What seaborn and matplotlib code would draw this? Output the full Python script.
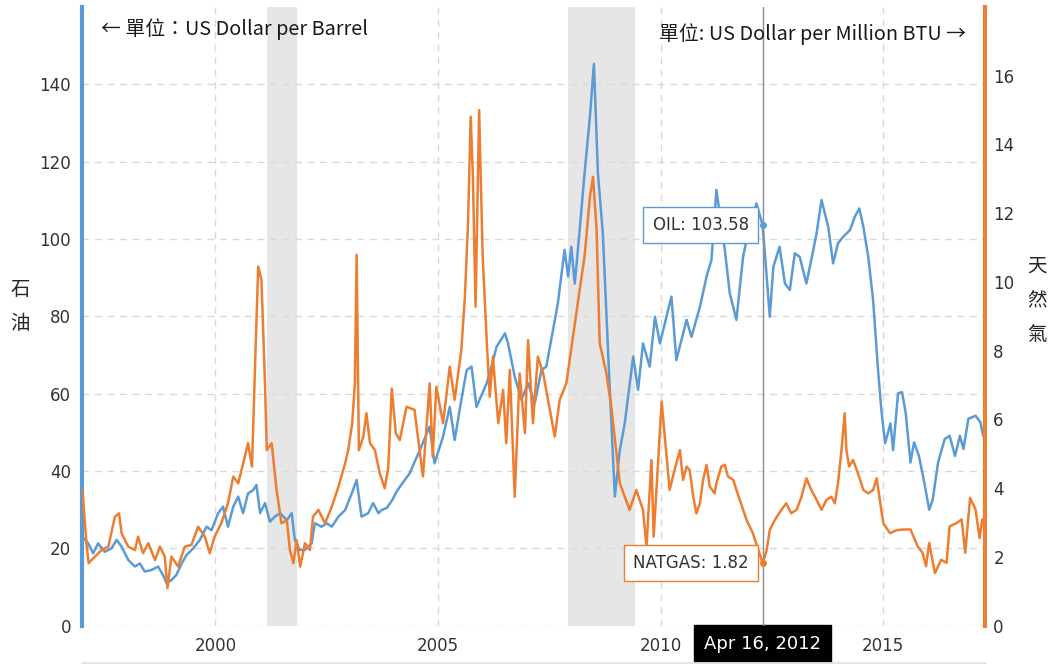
import pandas as pd
import matplotlib
matplotlib.use("Agg")
import matplotlib.pyplot as plt
import matplotlib.dates as mdates
import seaborn as sns

# OIL, USD per barrel: time (decimal year) and value
oil_t = [1997.01, 1997.14, 1997.25, 1997.36, 1997.51, 1997.66, 1997.78, 1997.89,
         1998.04, 1998.19, 1998.30, 1998.41, 1998.56, 1998.71, 1998.82, 1998.90,
         1999.01, 1999.12, 1999.24, 1999.35, 1999.50, 1999.65, 1999.80, 1999.91,
         2000.06, 2000.17, 2000.28, 2000.40, 2000.51, 2000.62, 2000.73, 2000.85, 2000.92,
         2001.00, 2001.11, 2001.22, 2001.33, 2001.45, 2001.60, 2001.71, 2001.78, 2001.89,
         2002.01, 2002.16, 2002.23, 2002.38, 2002.50, 2002.61, 2002.76, 2002.91,
         2003.06, 2003.17, 2003.28, 2003.43, 2003.54, 2003.66, 2003.73, 2003.85, 2003.97,
         2004.06, 2004.14, 2004.36, 2004.59, 2004.81, 2004.92,
         2005.11, 2005.26, 2005.37, 2005.52, 2005.64, 2005.75, 2005.86,
         2006.09, 2006.20, 2006.31, 2006.50, 2006.57, 2006.72, 2006.87,
         2007.02, 2007.17, 2007.32, 2007.43, 2007.58, 2007.69, 2007.84, 2007.92, 2007.99,
         2008.07, 2008.18, 2008.29, 2008.41, 2008.50, 2008.59, 2008.70, 2008.85, 2008.97,
         2009.08, 2009.19, 2009.38, 2009.49, 2009.60, 2009.75, 2009.87, 2009.98,
         2010.24, 2010.35, 2010.58, 2010.69, 2010.88,
         2011.03, 2011.14, 2011.25, 2011.44, 2011.55, 2011.70, 2011.85, 2011.96,
         2012.15, 2012.45, 2012.53, 2012.67, 2012.79, 2012.90,
         2013.01, 2013.12, 2013.27, 2013.38, 2013.50, 2013.61, 2013.76, 2013.87, 2013.98,
         2014.10, 2014.25, 2014.36, 2014.46, 2014.55, 2014.66, 2014.77, 2014.88, 2014.96,
         2015.04, 2015.16, 2015.22, 2015.33, 2015.42, 2015.50, 2015.61, 2015.69, 2015.80, 2015.92,
         2016.03, 2016.11, 2016.23, 2016.38, 2016.49, 2016.61, 2016.72, 2016.80, 2016.91,
         2017.07, 2017.18, 2017.24, 2017.28]
oil_v = [23.0, 21.3, 18.7, 21.3, 19.1, 20.0, 22.2, 20.4,
         17.0, 15.3, 16.1, 14.0, 14.4, 15.3, 13.1, 11.0,
         11.8, 13.1, 16.1, 18.3, 20.0, 22.2, 25.6, 24.7,
         29.1, 30.8, 25.6, 30.8, 33.4, 29.1, 34.2, 35.1, 36.4,
         29.1, 31.7, 26.9, 28.2, 29.1, 27.3, 29.1, 22.2, 19.6,
         19.6, 21.3, 26.5, 25.6, 26.5, 25.6, 28.2, 29.9,
         34.2, 37.7, 28.2, 29.1, 31.7, 29.1, 29.9, 30.5, 32.5,
         34.5, 35.9, 39.4, 45.4, 51.5, 42.0,
         48.9, 56.6, 48.0, 58.4, 66.1, 67.0, 56.6,
         62.7, 67.0, 72.1, 75.6, 73.0, 64.4, 58.4,
         62.7, 57.5, 66.1, 67.0, 76.5, 83.4, 97.2, 90.3, 98.0,
         88.5, 102.3, 117.0, 131.6, 145.3, 117.0, 101.5, 62.7, 33.4,
         45.4, 52.3, 69.6, 61.0, 73.0, 67.0, 79.9, 73.0,
         85.1, 68.7, 79.1, 74.7, 82.5,
         90.3, 94.6, 112.7, 97.2, 86.0, 79.1, 95.4, 101.5,
         109.2, 79.9, 92.8, 98.0, 88.5, 86.8,
         96.3, 95.4, 88.5, 94.6, 101.5, 110.1, 103.2, 93.7, 98.9,
         100.6, 102.3, 105.8, 107.9, 103.2, 95.4, 84.2, 66.1, 55.2,
         47.2, 52.3, 45.4, 60.1, 60.4, 55.2, 42.2, 47.4, 43.9, 37.0,
         30.0, 32.6, 42.2, 48.3, 49.1, 43.9, 49.1, 45.7, 53.5,
         54.3, 52.6, 49.1, 51.0]

# NATGAS, USD per million BTU
gas_t = [1997.01, 1997.10, 1997.15, 1997.29, 1997.44, 1997.59, 1997.74, 1997.83, 1997.89,
         1998.04, 1998.19, 1998.26, 1998.37, 1998.49, 1998.64, 1998.75, 1998.86, 1998.92,
         1999.01, 1999.16, 1999.31, 1999.46, 1999.61, 1999.76, 1999.87, 1999.98,
         2000.13, 2000.28, 2000.40, 2000.51, 2000.66, 2000.73, 2000.82, 2000.90, 2000.96,
         2001.03, 2001.11, 2001.15, 2001.26, 2001.37, 2001.48, 2001.60, 2001.67, 2001.75,
         2001.82, 2001.90, 2002.01, 2002.12, 2002.19, 2002.31, 2002.46, 2002.61, 2002.76,
         2002.91, 2002.98, 2003.07, 2003.13, 2003.17, 2003.22, 2003.32, 2003.39, 2003.47,
         2003.58, 2003.69, 2003.80, 2003.88, 2003.96, 2004.05,
         2004.14, 2004.29, 2004.47, 2004.66, 2004.81, 2004.88, 2004.96,
         2005.11, 2005.26, 2005.37, 2005.52, 2005.60, 2005.67, 2005.73, 2005.78, 2005.84,
         2005.92, 2006.00, 2006.09, 2006.16, 2006.23, 2006.35, 2006.46, 2006.53, 2006.61,
         2006.72, 2006.83, 2006.95, 2007.02, 2007.13, 2007.24, 2007.36, 2007.51, 2007.62,
         2007.73, 2007.88, 2008.03, 2008.18, 2008.29, 2008.41, 2008.48, 2008.56, 2008.63,
         2008.78, 2008.89, 2009.08, 2009.30, 2009.45, 2009.60, 2009.68, 2009.79, 2009.84,
         2010.02, 2010.09, 2010.20, 2010.31, 2010.43, 2010.50, 2010.58, 2010.65, 2010.73,
         2010.80, 2010.88, 2010.95, 2011.03, 2011.10, 2011.21, 2011.25, 2011.36, 2011.44,
         2011.51, 2011.63, 2011.70, 2011.85, 2011.93, 2012.07,
         2012.38, 2012.45, 2012.56, 2012.71, 2012.82, 2012.93,
         2013.05, 2013.16, 2013.27, 2013.38, 2013.50, 2013.61, 2013.72, 2013.83, 2013.91, 2013.98,
         2014.06, 2014.13, 2014.17, 2014.23, 2014.32, 2014.43, 2014.55, 2014.66, 2014.77,
         2014.85, 2014.92, 2015.00, 2015.15, 2015.30, 2015.46, 2015.61, 2015.77, 2015.88, 2015.96,
         2016.03, 2016.16, 2016.30, 2016.42, 2016.49, 2016.65, 2016.76, 2016.84, 2016.95,
         2017.07, 2017.16, 2017.22, 2017.28]
gas_v = [3.95, 2.40, 1.82, 2.01, 2.20, 2.30, 3.17, 3.27, 2.69,
         2.30, 2.20, 2.59, 2.11, 2.40, 1.91, 2.30, 2.01, 1.09,
         2.01, 1.72, 2.30, 2.35, 2.88, 2.59, 2.11, 2.59,
         2.98, 3.56, 4.34, 4.14, 4.92, 5.31, 4.63, 8.02, 10.45,
         10.06, 7.05, 5.11, 5.31, 3.95, 2.98, 3.07, 2.20, 1.82,
         2.49, 1.72, 2.40, 2.20, 3.17, 3.37, 2.98, 3.46, 4.04,
         4.72, 5.11, 5.89, 7.05, 10.79, 5.11, 5.50, 6.18, 5.31,
         5.11, 4.43, 4.00, 4.60, 6.90, 5.60,
         5.40, 6.37, 6.28, 4.34, 7.05, 4.92, 6.95,
         5.89, 7.54, 6.57, 8.02, 9.57, 11.71, 14.81, 13.06, 9.28,
         15.00, 10.74, 8.31, 6.66, 7.83, 5.89, 6.86, 5.31, 7.44,
         3.75, 7.34, 5.60, 8.31, 5.89, 7.83, 7.34, 6.28, 5.50,
         6.57, 7.05, 8.41, 9.77, 10.74, 12.48, 13.06, 11.51, 8.22,
         7.34, 6.37, 4.14, 3.37, 3.95, 3.37, 2.30, 4.82, 2.59,
         6.52, 5.50, 3.95, 4.53, 5.11, 4.24, 4.63, 4.53, 3.75,
         3.27, 3.56, 4.24, 4.68, 4.05, 3.85, 4.14, 4.63, 4.68,
         4.34, 4.24, 3.95, 3.37, 3.07, 2.69,
         2.20, 2.78, 3.07, 3.37, 3.56, 3.27,
         3.37, 3.75, 4.29, 3.95, 3.66, 3.37, 3.66, 3.75, 3.56, 4.14,
         5.11, 6.18, 5.11, 4.63, 4.82, 4.43, 3.95, 3.85, 3.95,
         4.29, 3.66, 2.98, 2.69, 2.78, 2.80, 2.80, 2.31, 2.12, 1.73,
         2.41, 1.53, 1.92, 1.83, 2.89, 2.99, 3.09, 2.12, 3.72,
         3.38, 2.55, 3.09, 2.99]

recessions = [("2001-03-01", "2001-11-01"), ("2007-12-01", "2009-06-01")]
year_ticks = ["2000", "2005", "2010", "2015"]
hover_date = "2012-04-16"
hover_oil = 103.58
hover_gas = 1.82

blue = "#5b9bd5"
orange = "#ed7d31"


def to_date(t):
    yr = int(t)
    return pd.Timestamp(year=yr, month=1, day=1) + pd.Timedelta(days=(t - yr) * 365.25)


hd = pd.Timestamp(hover_date)
oil = pd.DataFrame({"date": [to_date(t) for t in oil_t] + [hd], "price": oil_v + [hover_oil]})
gas = pd.DataFrame({"date": [to_date(t) for t in gas_t] + [hd], "price": gas_v + [hover_gas]})
oil = oil.sort_values("date")
gas = gas.sort_values("date")

sns.set_style("white")
plt.rcParams["font.family"] = ["DejaVu Sans", "Noto Sans CJK TC"]
cjk = ["Noto Sans CJK TC", "DejaVu Sans"]

W, H = 1053, 664
fig = plt.figure(figsize=(W / 100, H / 100), dpi=100)
ax = fig.add_axes([82 / W, (H - 625.7) / H, 903 / W, 618.7 / H])
ax2 = ax.twinx()

for start, end in recessions:
    ax.axvspan(pd.Timestamp(start), pd.Timestamp(end), color="#e6e6e6", lw=0, zorder=0)

sns.lineplot(data=oil, x="date", y="price", ax=ax, color=blue, lw=1.8, estimator=None)
sns.lineplot(data=gas, x="date", y="price", ax=ax2, color=orange, lw=1.8, estimator=None)

ax.set_xlim(pd.Timestamp("1997-01-01"), pd.Timestamp("2017-04-14"))
ax.set_ylim(0, 160)
ax2.set_ylim(0, 18)
ax.set_yticks(range(0, 141, 20))
ax2.set_yticks(range(0, 17, 2))
ax.set_xticks([pd.Timestamp(y + "-01-01") for y in year_ticks])
ax.xaxis.set_major_formatter(mdates.DateFormatter("%Y"))
ax.set_xlabel("")
ax.set_ylabel("")
ax2.set_ylabel("")

ax.grid(True, color="#d9d9d9", lw=1, ls=(0, (5, 4)))
ax2.grid(False)
ax.set_axisbelow(True)

for a in (ax, ax2):
    for s in ("top", "bottom", "left", "right"):
        a.spines[s].set_visible(False)
ax.spines["left"].set_visible(True)
ax.spines["left"].set_color(blue)
ax.spines["left"].set_linewidth(3)
ax2.spines["right"].set_visible(True)
ax2.spines["right"].set_color(orange)
ax2.spines["right"].set_linewidth(3)

ax.tick_params(axis="y", length=0, pad=8, labelsize=12, labelcolor="#333333")
ax.tick_params(axis="x", length=0, pad=8, labelsize=12, labelcolor="#333333")
ax2.tick_params(axis="y", length=0, pad=6, labelsize=12, labelcolor="#333333")

# crosshair and tooltips
hx = mdates.date2num(hd)
ax2.axvline(hx, color="#8c8c8c", lw=1, zorder=5)
ax2.plot([hx], [hover_oil * 18 / 160], "o", color=blue, ms=4, zorder=6)
ax2.plot([hx], [hover_gas], "o", color=orange, ms=4, zorder=6)
ax2.annotate(f"OIL: {hover_oil:.2f}", xy=(hx, hover_oil), xycoords=ax.transData,
             xytext=(-10, 0), textcoords="offset points", ha="right", va="center",
             fontsize=12, color="#333333", zorder=7,
             bbox=dict(boxstyle="square,pad=0.55", fc="white", ec=blue, lw=1))
ax2.annotate(f"NATGAS: {hover_gas:.2f}", xy=(hx, hover_gas), xycoords="data",
             xytext=(-10, 0), textcoords="offset points", ha="right", va="center",
             fontsize=12, color="#333333", zorder=7,
             bbox=dict(boxstyle="square,pad=0.55", fc="white", ec=orange, lw=1))
ax.text(hx, -0.0288, "Apr 16, 2012", transform=ax.get_xaxis_transform(), ha="center", va="center",
        fontsize=13, color="white", zorder=10,
        bbox=dict(boxstyle="square,pad=0.55", fc="black", ec="black"))

# unit notes
fig.text(101 / W, 1 - 29 / H, "← 單位：US Dollar per Barrel", family=cjk, fontsize=14.3,
         color="#1a1a1a", ha="left", va="center")
fig.text(966 / W, 1 - 34 / H, "單位: US Dollar per Million BTU →", family=cjk, fontsize=14.3,
         color="#1a1a1a", ha="right", va="center")

# axis titles, stacked characters
for ch, ypx in zip("石油", (289, 323)):
    fig.text(20 / W, 1 - ypx / H, ch, family=cjk, fontsize=14, ha="center", va="center")
for ch, ypx in zip("天然氣", (266, 300, 334)):
    fig.text(1037 / W, 1 - ypx / H, ch, family=cjk, fontsize=14, ha="center", va="center")

fig.add_artist(plt.Line2D([82 / W, 985 / W], [1.5 / H, 1.5 / H], color="#e3e3e3", lw=2))

fig.savefig("out.png", dpi=100)
